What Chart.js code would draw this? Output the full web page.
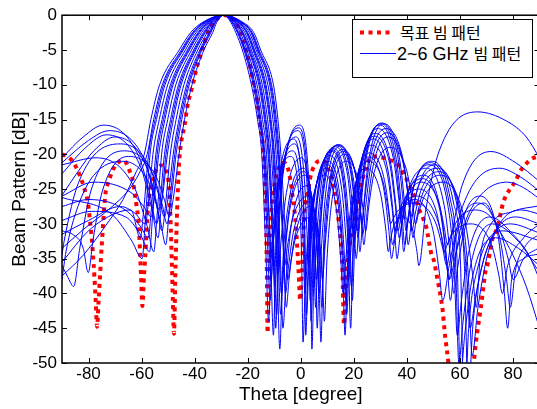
<!DOCTYPE html>
<html><head><meta charset="utf-8">
<script src="https://cdn.jsdelivr.net/npm/chart.js@4.4.1/dist/chart.umd.min.js"></script>
<style>
html,body{margin:0;padding:0;width:537px;height:409px;overflow:hidden;background:#fff;}
#wrap{position:relative;width:542px;height:409px;}
canvas{display:block;}
#legend{position:absolute;left:352px;top:19px;width:179px;height:57px;border:1px solid #000;background:#fff;
 font-family:"Liberation Sans",Arial,sans-serif;font-size:18px;color:#000;}
#legend .txt{position:absolute;height:20px;line-height:20px;white-space:nowrap;}
#legend .k{font-family:"Noto Sans CJK KR",sans-serif;font-size:16px;}
#legend svg{position:absolute;left:0;top:0;}
</style></head>
<body>
<div id="wrap">
<canvas id="c" width="542" height="409"></canvas>
<div id="legend">
 <svg width="179" height="57">
  <line x1="7" y1="12.5" x2="39" y2="12.5" stroke="#ff0000" stroke-width="4" stroke-dasharray="4 4.5"/>
  <line x1="7" y1="33.5" x2="43" y2="33.5" stroke="#0000ff" stroke-width="1"/>
 </svg>
 <div class="txt" style="left:47px;top:2px;" id="lg1"></div>
 <div class="txt" style="left:44px;top:23px;" id="lg2"></div>
</div>
</div>
<script>
// ---- axis ticks ----
const thetaTicks = [-80,-60,-40,-20,0,20,40,60,80];
const dbTicks = [0,-5,-10,-15,-20,-25,-30,-35,-40,-45,-50];
const legendLabels = ['목표 빔 패턴','2~6 GHz 빔 패턴'];

// ---- target beam pattern [theta(deg), dB] ----
const targetPattern = [[-90,-20],[-88,-20.3],[-86,-21],[-84.5,-22],[-83,-23.3],[-82,-24.4],[-81,-25.7],[-80.2,-27],[-79.5,-29.4],[-78.8,-32],[-78.3,-34.5],[-77.8,-37.5],[-77.3,-41],[-76.8,-44.8],[-76.2,-41],[-75.6,-37],[-75,-33],[-74.4,-29.4],[-73.6,-25.6],[-72.8,-24.3],[-71.7,-23.1],[-70.5,-22],[-68.6,-21.1],[-67,-20.9],[-65.7,-21.3],[-64.5,-22.4],[-63.4,-23.6],[-62.8,-25],[-61.9,-27.4],[-61.1,-30],[-60.6,-33.9],[-60.2,-37.5],[-59.7,-41.8],[-59.1,-37.5],[-58.5,-34],[-58,-30],[-57.5,-27.5],[-56.8,-25.3],[-55.5,-23.3],[-54,-21.9],[-52.5,-21.6],[-51,-22.2],[-50,-23.5],[-49.4,-26.5],[-49,-30.5],[-48.6,-35.5],[-48.2,-41],[-47.8,-45.8],[-47.2,-36],[-46.6,-28],[-45.9,-21.4],[-45.2,-18.6],[-43.75,-15.7],[-42.65,-12.9],[-40.7,-10],[-39.3,-7.7],[-37,-4.8],[-34.9,-2.4],[-33,-1.2],[-31.4,-0.5],[-28.6,0],[-25.8,-0.5],[-23.8,-1.5],[-22.6,-2.4],[-20.8,-4.8],[-18.9,-7.7],[-17.7,-10],[-16.2,-12.9],[-15.4,-15.7],[-14.3,-18.6],[-13.8,-21.4],[-13.2,-28],[-12.8,-36],[-12.5,-45.7],[-12,-36],[-11.4,-30],[-10.5,-26],[-9.2,-23],[-7.8,-21.6],[-6.4,-21.2],[-5,-21.8],[-3.8,-23.9],[-3,-26.3],[-2.4,-28],[-1.8,-30.5],[-1.3,-33.5],[-0.8,-37],[-0.2,-41],[0.4,-37],[0.9,-32],[1.5,-28],[2.6,-25.5],[3.8,-23],[5.5,-21.4],[7.5,-20.9],[9.5,-21.2],[10.7,-22.5],[12,-24],[13.2,-26.3],[14.3,-29.6],[15.1,-32.4],[15.7,-36.5],[16.3,-44.5],[17,-39],[17.8,-35],[19,-31.5],[20.5,-29.1],[21.8,-26.3],[23.1,-23.9],[25,-21.3],[27.6,-20.3],[30.2,-20.4],[33.3,-20.8],[36.5,-21.4],[37.8,-22.1],[39.6,-23.4],[40.9,-24.3],[42.3,-25.6],[43.5,-26.7],[44.6,-27.9],[46,-29.1],[47.2,-30.3],[47.9,-31.6],[48.5,-32.9],[49.1,-34.1],[50.2,-35.3],[51.6,-38.1],[52.8,-40.6],[53.5,-42.4],[54.1,-44.9],[54.6,-46.7],[55.4,-49.1],[56.5,-53],[58,-58],[60,-62],[62,-60],[63.5,-55],[64.5,-52],[65.3,-49.6],[66,-47.1],[66.8,-44.9],[67.9,-42],[68.7,-39.6],[69.5,-37.1],[70.5,-35.7],[71.1,-34.6],[72.3,-32.1],[73.6,-31],[74.7,-29.6],[76.2,-27.1],[77.3,-26],[79.2,-24.8],[81.1,-23.8],[82.3,-22.7],[84.2,-21.7],[86.8,-20.7],[89.4,-20.3],[90,-20.2]];

// ---- 2~6 GHz beam patterns [theta(deg), dB] ----
const beam2_00GHz = [[-90,-37.5],[-82,-34.5],[-74,-30.5],[-67,-26.5],[-62,-22.5],[-59,-20],[-56.5,-15],[-53.2,-10],[-45.8,-5],[-41.5,-2.5],[-36.9,-1],[-29,0],[-21.9,-1],[-17.7,-2.5],[-15.1,-5],[-10.3,-10],[-8.6,-15],[-7.5,-20],[-5.9,-31],[-4.9,-38],[-3.8,-35.5],[-1.7,-31.7],[4.3,-29],[7.3,-33.5],[8.4,-39.8],[8.9,-44],[9.9,-35],[11.8,-26.5],[17.2,-21],[21.9,-24],[23.6,-28.2],[24.5,-31],[25.6,-27.6],[27.7,-22.6],[33.7,-19],[39.9,-22.3],[42.1,-26.9],[43.3,-30],[44.5,-28.3],[46.9,-25.8],[53.6,-24],[61.8,-29.4],[64.7,-37],[66.2,-42],[67.6,-35],[71,-30.5],[80,-28.2],[90,-27.4]];
const beam2_33GHz = [[-90,-33.5],[-81,-30.5],[-72,-27.8],[-65,-25.2],[-61,-22.8],[-57.9,-20],[-55.44,-15],[-52.18,-10],[-45.03,-5],[-40.81,-2.5],[-36.46,-1],[-29,0],[-22.3,-1],[-18.3,-2.5],[-15.7,-5],[-11,-10],[-9.2,-15],[-8.1,-20],[-6.5,-33],[-5.45,-42],[-4.4,-37.9],[-2.3,-31.9],[3.6,-27.5],[6.6,-30.7],[7.7,-35.1],[8.2,-38],[9.2,-33],[11.1,-25.4],[16.4,-20],[21.2,-23.9],[22.9,-29.4],[23.8,-33],[24.9,-28.7],[27,-22.2],[32.9,-17.5],[39,-21.9],[41.2,-27.9],[42.3,-32],[43.5,-29.5],[45.9,-25.7],[52.5,-23],[60.4,-28.5],[63.1,-37],[64.6,-49],[66.8,-42],[71.1,-33.5],[83.2,-28],[90,-28.6]];
const beam2_50GHz = [[-90,-35.5],[-80,-31],[-70,-28.5],[-64,-28],[-60.5,-32],[-59.2,-28],[-57.36,-20],[-54.9,-15],[-51.7,-10],[-44.6,-5],[-40.5,-2.5],[-36.2,-1],[-29,0],[-22.5,-1],[-18.55,-2.5],[-16,-5],[-11.35,-10],[-9.55,-15],[-8.4,-20],[-6.8,-30],[-5.75,-40],[-4.66,-36.3],[-2.58,-30.8],[3.3,-26.8],[6.29,-31.4],[7.35,-37.7],[7.9,-42],[8.88,-33.6],[10.77,-25.1],[16.1,-19.6],[20.85,-23.2],[22.5,-28.2],[23.4,-31.5],[24.5,-27.4],[26.6,-21.3],[32.5,-16.9],[38.6,-21.1],[40.8,-27.1],[41.9,-31],[43.1,-28.6],[45.5,-25],[52,-22.5],[59.7,-28],[62.4,-36.5],[63.8,-45],[65.9,-40.5],[70,-33.8],[81,-29],[90,-30]];
const beam2_67GHz = [[-90,-26.2],[-71,-28.7],[-63.6,-32.5],[-59.8,-35],[-58.6,-29.5],[-56.82,-20],[-54.38,-15],[-51.17,-10],[-44.25,-5],[-40.12,-2.5],[-36.03,-1],[-29,0],[-22.7,-1],[-18.8,-2.5],[-16.3,-5],[-11.7,-10],[-9.9,-15],[-8.7,-20],[-7.1,-30],[-6.1,-36],[-5,-33.2],[-2.9,-29],[3,-26],[6,-31.5],[7,-40],[7.6,-47],[8.6,-33.3],[10.5,-24.8],[15.8,-19.3],[20.5,-22.5],[22.2,-27],[23.1,-30],[24.2,-26.2],[26.3,-20.4],[32.1,-16.3],[38.2,-20.1],[40.3,-25.4],[41.5,-29],[42.6,-27],[44.9,-24.1],[51.4,-22],[59,-27.5],[61.7,-36],[63.1,-55],[65,-44],[68.7,-35.5],[79,-30],[90,-31.3]];
const beam3_00GHz = [[-90,-31.5],[-80,-29.5],[-68,-27.5],[-62.4,-28.5],[-58.6,-30],[-57.45,-27],[-55.73,-20],[-53.33,-15],[-50.15,-10],[-43.48,-5],[-39.43,-2.5],[-35.59,-1],[-29,0],[-23,-1],[-19.4,-2.5],[-16.8,-5],[-12.4,-10],[-10.5,-15],[-9.3,-20],[-7.7,-34.5],[-6.7,-45],[-5.6,-38.5],[-3.5,-30],[2.3,-24.5],[5.3,-29.2],[6.3,-35.7],[6.9,-40],[7.9,-32.8],[9.8,-24.3],[15.1,-18.8],[19.8,-23.4],[21.5,-29.7],[22.3,-34],[23.4,-28.8],[25.5,-21.1],[31.3,-15.6],[37.3,-20.8],[39.4,-28.1],[40.5,-33],[41.7,-29.8],[44,-25],[50.3,-21.5],[57.6,-27],[60.2,-35.5],[61.6,-58],[63.3,-45],[66.6,-36.5],[75.9,-31],[90,-32.4]];
const beam3_33GHz = [[-90,-27.5],[-80,-26.5],[-65.4,-28.2],[-60.2,-30.5],[-57.5,-32],[-56.35,-28],[-54.63,-20],[-52.27,-15],[-49.13,-10],[-42.7,-5],[-38.73,-2.5],[-35.15,-1],[-29,0],[-23.4,-1],[-20,-2.5],[-17.4,-5],[-13.1,-10],[-11.2,-15],[-9.9,-20],[-8.3,-32],[-7.3,-40],[-6.2,-35.2],[-4.2,-28.1],[1.6,-23],[4.6,-28.5],[5.65,-37],[6.2,-45],[7.2,-32.6],[9.1,-24.1],[14.4,-18.6],[19.1,-22.6],[20.7,-28.2],[21.6,-32],[22.7,-27.4],[24.7,-20.5],[30.5,-15.5],[36.5,-20.2],[38.6,-26.7],[39.7,-31],[40.8,-28.2],[43,-24],[49.3,-21],[56.4,-26.5],[58.9,-35],[60.2,-52],[61.8,-46],[64.8,-37.5],[73.4,-32],[82,-33.5],[90,-36]];
const beam3_50GHz = [[-90,-29.5],[-79,-28.2],[-66,-29],[-60.5,-31.5],[-57,-34],[-55.8,-28.5],[-54.1,-20],[-51.74,-15],[-48.6,-10],[-42.3,-5],[-38.4,-2.5],[-34.9,-1],[-29,0],[-23.6,-1],[-20.25,-2.5],[-17.7,-5],[-13.45,-10],[-11.5,-15],[-10.2,-20],[-8.6,-33],[-7.6,-43],[-6.53,-36.5],[-4.43,-28],[1.3,-22.5],[4.29,-27.2],[5.35,-33.7],[5.9,-38],[6.86,-32.6],[8.77,-24.15],[14,-18.65],[18.7,-22.35],[20.4,-27.55],[21.25,-31],[22.3,-26.7],[24.4,-20.2],[30.2,-15.6],[36.05,-20.8],[38.1,-28.1],[39.2,-33],[40.4,-29.7],[42.6,-24.7],[48.8,-21.2],[55.8,-26.7],[58.3,-35.2],[59.6,-50],[61.2,-44],[64.3,-35.5],[72.3,-30],[82,-32.5],[90,-37]];
const beam3_67GHz = [[-90,-26],[-78,-24],[-64,-25.5],[-59,-27.6],[-56.4,-29],[-55.26,-26.5],[-53.54,-20],[-51.21,-15],[-48.12,-10],[-41.93,-5],[-38.04,-2.5],[-34.71,-1],[-29,0],[-23.8,-1],[-20.5,-2.5],[-18,-5],[-13.8,-10],[-11.8,-15],[-10.5,-20],[-8.9,-36],[-7.9,-48],[-6.8,-36],[-4.8,-27.5],[1,-22],[4,-27.5],[5,-36],[5.6,-42],[6.6,-32.7],[8.4,-24.2],[13.7,-18.7],[18.4,-23.6],[20.1,-30.4],[20.9,-35],[22,-29.6],[24,-21.3],[29.8,-15.8],[35.7,-21.3],[37.8,-28.9],[38.8,-34],[40,-30.5],[42.1,-25.3],[48.3,-21.5],[55.3,-27],[57.7,-35.5],[59,-46],[60.5,-41.2],[63.3,-34.1],[71.3,-29],[80,-31.5],[86,-34.5],[90,-38]];
const beam4_00GHz = [[-90,-21.5],[-77.2,-20.5],[-63,-24.55],[-58,-30.2],[-55.4,-34],[-54.2,-29],[-52.45,-20],[-50.15,-15],[-47.1,-10],[-41.15,-5],[-37.35,-2.5],[-34.28,-1],[-29,0],[-24.2,-1],[-21.1,-2.5],[-18.6,-5],[-14.5,-10],[-12.5,-15],[-11.1,-20],[-9.5,-30.5],[-8.45,-37],[-7.4,-32.4],[-5.4,-25.5],[0.3,-20.5],[3.3,-26],[4.3,-33.8],[4.9,-39],[5.85,-32.9],[7.7,-24.4],[13,-18.9],[17.7,-23.1],[19.3,-29.1],[20.2,-33],[21.2,-28.3],[23.3,-21.3],[29,-16.3],[34.8,-20.4],[36.9,-26.2],[38,-30],[39.1,-27.8],[41.2,-24.4],[47.3,-22],[54.1,-27.4],[56.5,-35],[57.7,-40],[59.1,-36.4],[61.7,-30.9],[69.2,-27],[75,-31],[80,-34.5],[85,-39],[90,-45]];
const beam4_33GHz = [[-90,-20.5],[-82,-17.5],[-74.4,-15.8],[-61.3,-20.1],[-56.7,-26],[-54.3,-30],[-53.1,-27],[-51.36,-20],[-49.09,-15],[-46.08,-10],[-40.38,-5],[-36.66,-2.5],[-33.84,-1],[-29,0],[-24.5,-1],[-21.7,-2.5],[-19.1,-5],[-15.1,-10],[-13.1,-15],[-11.7,-20],[-10.1,-33.5],[-9.1,-43],[-8.05,-29.8],[-6.05,-21.3],[-0.4,-15.8],[2.6,-21.3],[3.6,-29.8],[4.2,-48],[5.2,-33.2],[7,-24.7],[12.3,-19.2],[17,-24.7],[18.6,-33.2],[19.45,-41],[20.5,-31],[22.5,-22.5],[28.2,-17],[34,-21.5],[36,-27.8],[37.1,-32],[38.2,-29.5],[40.3,-25.7],[46.3,-23],[52.9,-28.4],[55.2,-36],[56.4,-41],[57.7,-36.8],[60.3,-30.5],[67.4,-26],[74.3,-31.5],[76.7,-39.7],[78,-45],[79.5,-38],[84,-35],[90,-34.3]];
const beam4_50GHz = [[-90,-22.8],[-81,-19],[-73.3,-17.2],[-60.6,-21.6],[-56.1,-27.9],[-53.8,-32],[-52.6,-27.5],[-50.8,-20],[-48.56,-15],[-45.58,-10],[-39.99,-5],[-36.3,-2.5],[-33.6,-1],[-29,0],[-24.7,-1],[-21.95,-2.5],[-19.4,-5],[-15.45,-10],[-13.4,-15],[-12,-20],[-10.4,-34],[-9.4,-45],[-8.36,-30.2],[-6.35,-21.7],[-0.7,-16.2],[2.27,-21.7],[3.32,-30.2],[3.87,-44],[4.86,-33.4],[6.71,-24.9],[12,-19.4],[16.6,-24.9],[18.25,-33.4],[19.1,-39],[20.1,-31.4],[22.1,-22.9],[27.9,-17.4],[33.6,-21.5],[35.6,-27.2],[36.7,-31],[37.8,-28.9],[39.9,-25.75],[45.85,-23.5],[52.35,-27.85],[54.65,-33.9],[55.85,-38],[57.1,-34.9],[59.6,-30.3],[66.6,-27],[74.7,-31.5],[77.5,-37.8],[79,-42],[81,-36.5],[85,-33],[90,-31.5]];
const beam4_67GHz = [[-90,-21.2],[-80,-18],[-72.2,-16.6],[-59.9,-20],[-55.6,-24.8],[-53.3,-28],[-52.1,-26],[-50.27,-20],[-48.03,-15],[-45.07,-10],[-39.6,-5],[-35.97,-2.5],[-33.4,-1],[-29,0],[-24.9,-1],[-22.2,-2.5],[-19.7,-5],[-15.8,-10],[-13.7,-15],[-12.3,-20],[-10.7,-31.5],[-9.7,-39],[-8.6,-30.6],[-6.65,-22.1],[-1,-16.6],[1.95,-22.1],[3,-30.6],[3.55,-41],[4.5,-33.6],[6.4,-25.1],[11.65,-19.6],[16.3,-25.1],[17.9,-33.6],[18.8,-45],[19.8,-31.8],[21.8,-23.3],[27.5,-17.8],[33.2,-23],[35.25,-30.2],[36.3,-35],[37.4,-31.9],[39.5,-27.3],[45.4,-24],[51.8,-26.7],[54.1,-30.5],[55.3,-33],[56.6,-31.6],[59,-29.5],[65.8,-28],[75,-31],[78.3,-35.2],[80,-38],[84,-35],[90,-33.4]];
const beam5_00GHz = [[-90,-25.9],[-84,-22.5],[-78,-19.5],[-70.05,-17.5],[-58.5,-21.55],[-54.4,-27.2],[-52.3,-31],[-51.05,-27.5],[-49.18,-20],[-46.98,-15],[-44.05,-10],[-38.83,-5],[-35.28,-2.5],[-32.96,-1],[-29,0],[-25.3,-1],[-22.8,-2.5],[-20.3,-5],[-16.5,-10],[-14.4,-15],[-12.9,-20],[-11.35,-35],[-10.3,-46],[-9.3,-31.5],[-7.3,-23],[-1.7,-17.5],[1.26,-23],[2.3,-30.8],[2.9,-36],[3.84,-31.6],[5.7,-24.9],[10.95,-20.2],[15.6,-25.5],[17.2,-33],[18.06,-38],[19.1,-32.6],[21.1,-24.2],[26.7,-18.7],[32.4,-22.4],[34.4,-27.6],[35.45,-31],[36.5,-29.3],[38.6,-26.8],[44.4,-25],[50.7,-27.7],[52.9,-31.5],[54.1,-34],[55.3,-32.9],[57.6,-31.2],[64.2,-30],[71.9,-33],[74.6,-37.2],[76,-40],[78,-36],[84,-32],[90,-30]];
const beam5_33GHz = [[-90,-34.5],[-89.2,-32.5],[-83.7,-24],[-68.1,-18.5],[-57.2,-21.65],[-53.4,-26.1],[-51.4,-29],[-50.1,-26.5],[-48.08,-20],[-45.92,-15],[-43.03,-10],[-38.05,-5],[-34.58,-2.5],[-32.53,-1],[-29,0],[-25.65,-1],[-23.4,-2.5],[-20.85,-5],[-17.2,-10],[-15,-15],[-13.5,-20],[-11.9,-29.5],[-10.9,-35],[-9.9,-30.4],[-7.9,-23.45],[-2.4,-18.5],[0.57,-24],[1.63,-32.5],[2.18,-43],[3.15,-35],[5,-26.5],[10.25,-21],[14.9,-26.5],[16.5,-35],[17.34,-43],[18.4,-33.8],[20.4,-25.3],[26,-19.8],[31.6,-23.8],[33.6,-29.3],[34.6,-33],[35.7,-31],[37.7,-28.1],[43.5,-26],[51.7,-29.6],[54.5,-34.6],[56,-38],[58.6,-34],[63.7,-28.2],[78,-24],[84,-24.8],[90,-26.4]];
const beam5_50GHz = [[-90,-38],[-88.5,-34],[-84,-27.5],[-78,-23],[-67.3,-21],[-56.6,-24.6],[-52.9,-29.6],[-50.9,-33],[-49.5,-27.5],[-47.5,-20],[-45.4,-15],[-42.5,-10],[-37.65,-5],[-34.2,-2.5],[-32.3,-1],[-29,0],[-25.8,-1],[-23.65,-2.5],[-21.1,-5],[-17.55,-10],[-15.35,-15],[-13.8,-20],[-12.2,-31],[-11.2,-38],[-10.18,-31.8],[-8.23,-23.3],[-2.7,-17.8],[0.27,-23.3],[1.32,-31.8],[1.87,-46],[2.83,-35.5],[4.69,-27],[9.9,-21.5],[14.5,-27],[16.15,-35.5],[17,-41],[18.03,-34.4],[20,-25.9],[25.6,-20.4],[31.2,-24.8],[33.2,-30.9],[34.2,-35],[35.3,-32.6],[37.3,-29],[43,-26.5],[49.8,-30.85],[52.2,-36.9],[53.5,-41],[56.1,-35.7],[61,-27.5],[75,-22],[83,-23.3],[90,-25.3]];
const beam5_67GHz = [[-90,-36],[-88,-37.5],[-85.6,-39],[-83.3,-33.5],[-78.9,-25],[-66.5,-19.5],[-56,-22.65],[-52.3,-27.1],[-50.4,-30],[-49,-27],[-46.99,-20],[-44.86,-15],[-42.02,-10],[-37.28,-5],[-33.89,-2.5],[-32.09,-1],[-29,0],[-26,-1],[-23.9,-2.5],[-21.4,-5],[-17.9,-10],[-15.7,-15],[-14.1,-20],[-12.56,-32.5],[-11.54,-41],[-10.5,-33.5],[-8.6,-25],[-3.04,-19.5],[-0.06,-25],[1,-33.5],[1.55,-40],[2.5,-35],[4.4,-27.4],[9.6,-22],[14.2,-27.5],[15.8,-36],[16.7,-46],[17.7,-35],[19.7,-26.5],[25.3,-21],[30.85,-23.7],[32.8,-27.5],[33.85,-30],[34.9,-29.2],[36.9,-28],[42.6,-27],[50.7,-29.7],[53.5,-33.5],[55,-36],[57,-31.4],[60.8,-24.5],[71.7,-19.6],[81,-21.2],[90,-23.9]];
const beam6_00GHz = [[-90,-31],[-86,-31.5],[-82,-33.5],[-80.1,-37],[-78.3,-32.3],[-74.8,-25.3],[-64.9,-20.3],[-54.9,-22.9],[-51.35,-26.6],[-49.5,-29],[-48.1,-26.5],[-45.9,-20],[-43.8,-15],[-41,-10],[-36.5,-5],[-33.2,-2.5],[-31.65,-1],[-29,0],[-26.4,-1],[-24.5,-2.5],[-22,-5],[-18.6,-10],[-16.3,-15],[-14.7,-20],[-13.15,-34],[-12.12,-44],[-11.1,-34.3],[-9.2,-25.8],[-3.73,-20.3],[-0.75,-25.8],[0.31,-34.3],[0.86,-47],[1.83,-37],[3.68,-28.5],[8.92,-23],[13.5,-28.1],[15.1,-35.2],[15.96,-40],[17,-35],[19,-27.4],[24.5,-22],[30.05,-25.6],[32,-30.6],[33.03,-34],[33.7,-32.6],[34.9,-30.5],[38.5,-29],[42.4,-31.1],[43.8,-34],[44.5,-36],[47.2,-27.9],[52.3,-19.4],[66.7,-13.9],[77.5,-15.2],[85,-17.5],[90,-20.5]];

const bandPatterns = [beam2_00GHz, beam2_33GHz, beam2_50GHz, beam2_67GHz, beam3_00GHz, beam3_33GHz,
  beam3_50GHz, beam3_67GHz, beam4_00GHz, beam4_33GHz, beam4_50GHz, beam4_67GHz, beam5_00GHz,
  beam5_33GHz, beam5_50GHz, beam5_67GHz, beam6_00GHz];

const wrapKorean = s => s.replace(/([\uAC00-\uD7A3][\uAC00-\uD7A3 ]*)/g, '<span class="k">$1</span>');
document.getElementById('lg1').innerHTML = wrapKorean(legendLabels[0]);
document.getElementById('lg2').innerHTML = wrapKorean(legendLabels[1]);

const toXY = arr => arr.map(p => ({x: p[0], y: p[1]}));
const datasets = bandPatterns.map((arr, i) => ({
  label: i === 0 ? legendLabels[1] : '',
  data: toXY(arr),
  borderColor: '#0000ff', borderWidth: 1, pointRadius: 0, fill: false,
  cubicInterpolationMode: 'monotone'
}));
datasets.push({
  label: legendLabels[0], data: toXY(targetPattern),
  borderColor: '#ff0000', borderWidth: 4, borderDash: [4, 4.5], borderCapStyle: 'butt',
  pointRadius: 0, fill: false, cubicInterpolationMode: 'monotone'
});

const framePlugin = {
  id: 'frame',
  afterDraw(chart) {
    const {ctx, chartArea: a, scales: {x, y}} = chart;
    ctx.save();
    ctx.strokeStyle = '#000';
    ctx.lineWidth = 1;
    ctx.beginPath();
    for (const t of x.ticks) {
      const px = Math.round(x.getPixelForValue(t.value)) + 0.5;
      ctx.moveTo(px, a.bottom); ctx.lineTo(px, a.bottom - 5);
      ctx.moveTo(px, a.top); ctx.lineTo(px, a.top + 5);
    }
    for (const t of y.ticks) {
      const py = Math.round(y.getPixelForValue(t.value)) + 0.5;
      ctx.moveTo(a.left, py); ctx.lineTo(a.left + 5, py);
      ctx.moveTo(a.right, py); ctx.lineTo(a.right - 5, py);
    }
    ctx.stroke();
    ctx.lineWidth = 1.5;
    ctx.strokeRect(a.left, a.top, a.right - a.left, a.bottom - a.top);
    ctx.restore();
  }
};

const tickFont = {family: '"Liberation Sans", Arial, sans-serif', size: 17};
const titleFont = {family: '"Liberation Sans", Arial, sans-serif', size: 19};

new Chart(document.getElementById('c'), {
  type: 'line',
  data: {datasets},
  options: {
    responsive: false, animation: false, devicePixelRatio: 1,
    layout: {padding: {left: 0, right: 2.5, top: 13, bottom: 0}},
    plugins: {legend: {display: false}, tooltip: {enabled: false}},
    elements: {line: {tension: 0}},
    scales: {
      x: {
        type: 'linear', min: -90, max: 90,
        afterBuildTicks: s => { s.ticks = thetaTicks.map(v => ({value: v})); },
        afterFit: s => { s.height = 46; },
        grid: {display: false, drawTicks: false},
        border: {display: false},
        ticks: {font: tickFont, color: '#000', padding: 1, maxRotation: 0, autoSkip: false},
        title: {display: true, text: 'Theta [degree]', font: titleFont, color: '#000', padding: {top: 0, bottom: 3}}
      },
      y: {
        type: 'linear', min: -50, max: 0,
        afterBuildTicks: s => { s.ticks = dbTicks.map(v => ({value: v})); },
        afterFit: s => { s.width = 62; },
        grid: {display: false, drawTicks: false},
        border: {display: false},
        ticks: {font: tickFont, color: '#000', padding: 5, autoSkip: false},
        title: {display: true, text: 'Beam Pattern [dB]', font: titleFont, color: '#000', padding: {top: 8, bottom: 0}}
      }
    }
  },
  plugins: [framePlugin]
});
</script>
</body></html>
